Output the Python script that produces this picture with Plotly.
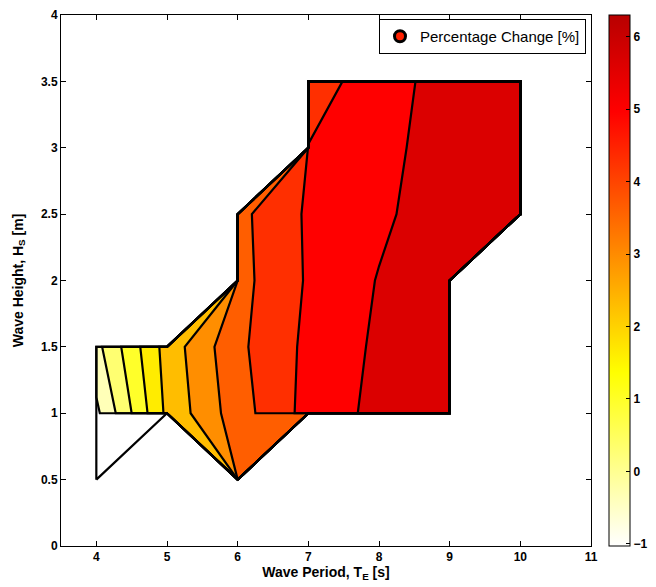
import numpy as np
import plotly.graph_objects as go

# ---------------- data ----------------
wave_period = [4, 5, 6, 7, 8, 9, 10]          # T_E [s]
wave_height = [0.5, 1.0, 1.5, 2.0, 2.5, 3.0, 3.5]  # H_S [m]
nan = float("nan")
# percentage change, one list per wave height row (columns = wave_period)
pct_h050 = [-1.03, nan, 3.90, nan, nan, nan, nan]
pct_h100 = [-0.51, 2.45, 4.00, 5.20, 5.82, 6.10, nan]
pct_h150 = [0.10, 2.57, 4.155, 5.12, 5.75, 6.05, nan]
pct_h200 = [nan, nan, 4.07, 5.04, 5.67, 6.00, nan]
pct_h250 = [nan, nan, 4.11, 5.06, 5.50, 6.04, 6.30]
pct_h300 = [nan, nan, nan, 4.99, 5.45, 5.92, 6.15]
pct_h350 = [nan, nan, nan, 4.60, 5.36, 5.89, 6.10]
n_levels = 10
x_ticks = [4, 5, 6, 7, 8, 9, 10, 11]
y_ticks = [0, 0.5, 1, 1.5, 2, 2.5, 3, 3.5, 4]
cbar_ticks = [-1, 0, 1, 2, 3, 4, 5, 6]
legend_name = "Percentage Change [%]"

# ---------------- colormap (flipped 'hot', truncated) ----------------
cscale = [[0.0, "#FFFFFF"], [0.327, "#FFFF00"], [0.818, "#FF0000"], [1.0, "#B80000"]]


def hex2rgb(h):
    h = h.lstrip("#")
    return [int(h[i:i + 2], 16) for i in (0, 2, 4)]


def cmap(f):
    f = min(max(f, 0.0), 1.0)
    for (f0, c0), (f1, c1) in zip(cscale[:-1], cscale[1:]):
        if f0 <= f <= f1:
            t = 0 if f1 == f0 else (f - f0) / (f1 - f0)
            a, b = hex2rgb(c0), hex2rgb(c1)
            return "rgb(%d,%d,%d)" % tuple(round(a[k] + t * (b[k] - a[k])) for k in range(3))
    return cscale[-1][1]


# ---------------- contour computation (MATLAB-like contourf) ----------------
Zv = np.array([pct_h050, pct_h100, pct_h150, pct_h200, pct_h250, pct_h300, pct_h350], float)
zmin, zmax = np.nanmin(Zv), np.nanmax(Zv)
low = zmin - 1e4 * (zmax - zmin)
X = np.array([3.0] + list(wave_period) + [11.0])
Y = np.array([0.0] + list(wave_height) + [4.0])
Z = np.full((len(Y), len(X)), low)
Z[1:-1, 1:-1] = np.where(np.isnan(Zv), low, Zv)

levels = [zmin - 1e-9] + [zmin + (zmax - zmin) * k / (n_levels + 1) for k in range(1, n_levels + 1)]


def edge_point(key, L):
    kind, i, j = key
    if kind == "h":
        z0, z1 = Z[j, i], Z[j, i + 1]
        t = (L - z0) / (z1 - z0)
        return (X[i] + t * (X[i + 1] - X[i]), Y[j])
    z0, z1 = Z[j, i], Z[j + 1, i]
    t = (L - z0) / (z1 - z0)
    return (X[i], Y[j] + t * (Y[j + 1] - Y[j]))


def contour_loops(L):
    adj = {}

    def link(a, b):
        adj.setdefault(a, []).append(b)
        adj.setdefault(b, []).append(a)

    for j in range(len(Y) - 1):
        for i in range(len(X) - 1):
            zc = [Z[j, i], Z[j, i + 1], Z[j + 1, i + 1], Z[j + 1, i]]
            a = [z > L for z in zc]
            e = [("h", i, j), ("v", i + 1, j), ("h", i, j + 1), ("v", i, j)]
            cr = [k for k in range(4) if a[k] != a[(k + 1) % 4]]
            if len(cr) == 2:
                link(e[cr[0]], e[cr[1]])
            elif len(cr) == 4:
                if a[0] and a[2]:
                    link(e[0], e[1]); link(e[2], e[3])
                else:
                    link(e[3], e[0]); link(e[1], e[2])
    loops, seen = [], set()
    for start in adj:
        if start in seen:
            continue
        loop, prev, cur = [], None, start
        while True:
            seen.add(cur)
            loop.append(edge_point(cur, L))
            nb = [n for n in adj[cur] if n != prev]
            nxt = nb[0] if nb else adj[cur][0]
            if prev is not None and nxt == start:
                break
            if nxt in seen and nxt != start:
                break
            prev, cur = cur, nxt
            if cur == start:
                break
        loops.append(loop)
    return loops


fig = go.Figure()
line_x, line_y = [], []
for L in levels:
    loops = contour_loops(L)
    fx, fy = [], []
    for lp in loops:
        xs = [p[0] for p in lp] + [lp[0][0]]
        ys = [p[1] for p in lp] + [lp[0][1]]
        fx += xs + [None]
        fy += ys + [None]
    col = cmap((L - zmin) / (zmax - zmin))
    fig.add_trace(go.Scatter(x=fx, y=fy, mode="lines", fill="toself", fillcolor=col,
                             line=dict(width=0.6, color=col), hoverinfo="skip", showlegend=False))
    line_x += fx
    line_y += fy

fig.add_trace(go.Scatter(x=line_x, y=line_y, mode="lines", line=dict(color="black", width=2.2),
                         hoverinfo="skip", showlegend=False))

# legend entry
fig.add_trace(go.Scatter(x=[None], y=[None], mode="markers", name=legend_name,
                         marker=dict(symbol="circle", size=11, color="#FF2000",
                                     line=dict(color="black", width=3)),
                         showlegend=True))

font_fam = "Liberation Sans"
# colorbar
fig.add_trace(go.Scatter(
    x=[wave_period[0]], y=[wave_height[0]], mode="markers", hoverinfo="skip", showlegend=False,
    marker=dict(size=1, opacity=0, color=[zmin], cmin=zmin, cmax=zmax,
                colorscale=cscale, showscale=True,
                colorbar=dict(thickness=21, len=1, lenmode="fraction", y=0.5, yanchor="middle",
                              ypad=0, x=(609 - 61) / 530, xanchor="left", xpad=0,
                              outlinecolor="black", outlinewidth=1,
                              tickvals=cbar_ticks, ticks="inside", ticklen=4, tickcolor="black",
                              tickfont=dict(size=12, family=font_fam, color="black",
                                            weight="bold")))))

fig.update_layout(
    width=656, height=587,
    margin=dict(l=61, r=65, t=15, b=41, autoexpand=False),
    paper_bgcolor="white", plot_bgcolor="white",
    font=dict(family=font_fam, color="black"),
    legend=dict(x=(586 - 61) / 530, y=(546 - 19) / 531, xanchor="right", yanchor="top",
                bordercolor="black", borderwidth=1, bgcolor="white",
                font=dict(size=15, family=font_fam, color="black"), itemwidth=30,
                tracegroupgap=0),
    xaxis=dict(range=[3.5, 11], tickvals=x_ticks, ticks="inside", ticklen=5, tickcolor="black",
               showline=True, linecolor="black", linewidth=1, mirror="ticks", showgrid=False,
               zeroline=False, automargin=False, tickfont=dict(size=12, weight="bold"),
               title=dict(text="Wave Period, T<sub>E</sub> [s]",
                          font=dict(size=14, weight="bold"), standoff=2)),
    yaxis=dict(range=[0, 4], tickvals=y_ticks, ticks="inside", ticklen=5, tickcolor="black",
               showline=True, linecolor="black", linewidth=1, mirror="ticks", showgrid=False,
               zeroline=False, automargin=False, tickfont=dict(size=12, weight="bold"),
               title=dict(text="Wave Height, H<sub>S</sub> [m]",
                          font=dict(size=14, weight="bold"), standoff=14)),
)

fig.write_html("out.html", config={"displayModeBar": False},
               post_script="document.body.style.margin='0px';document.body.style.padding='0px';")
